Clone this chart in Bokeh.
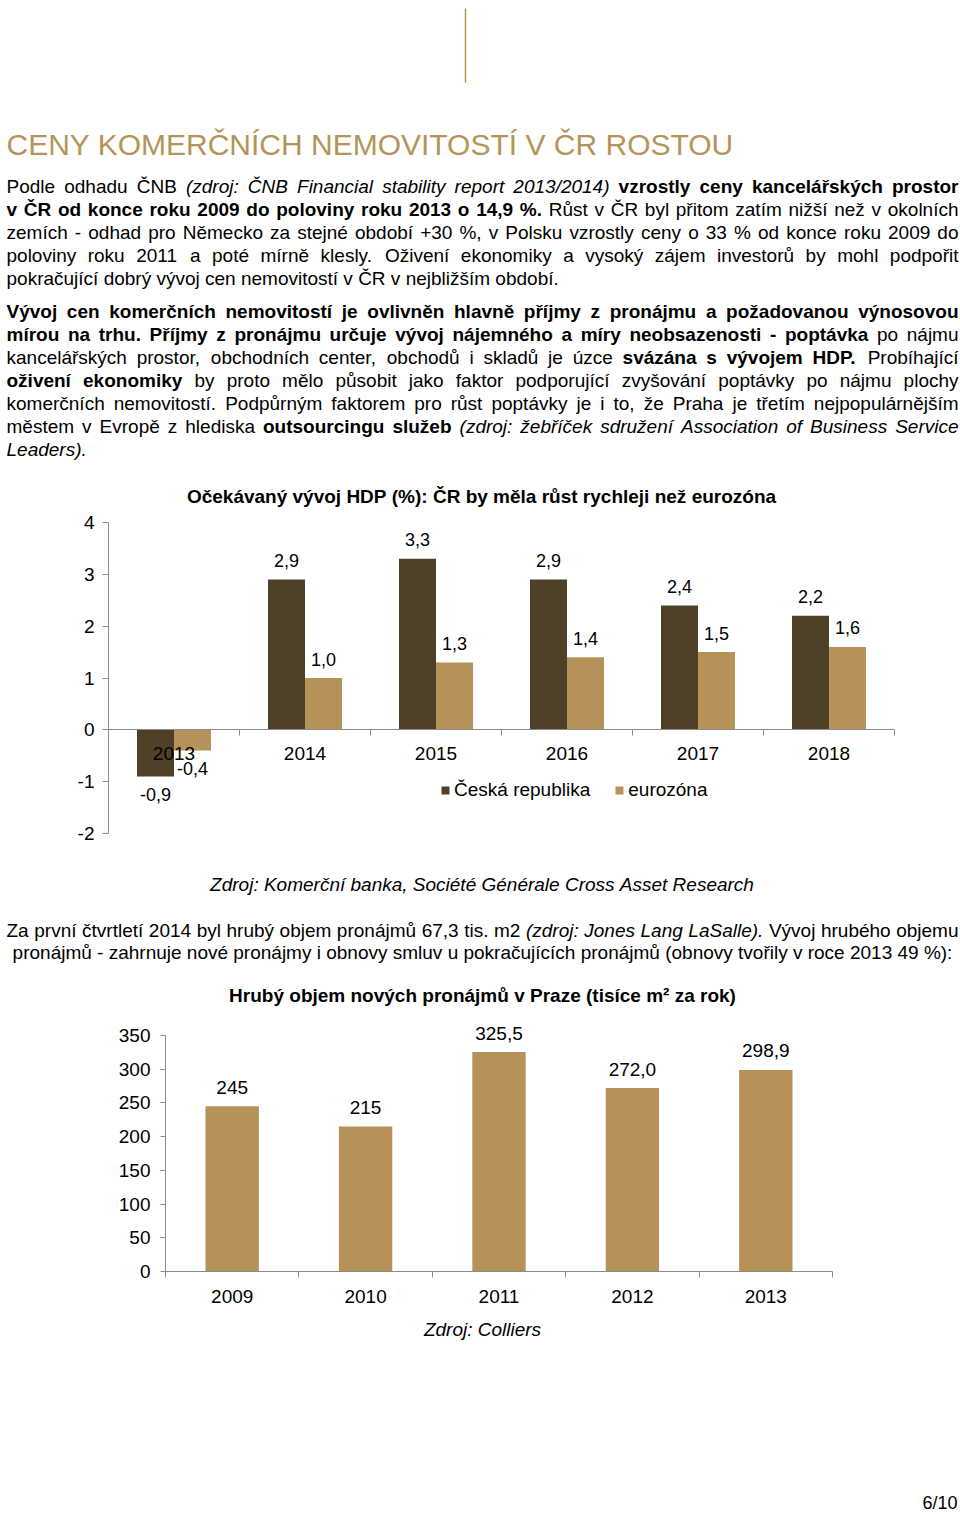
import unicodedata
from bokeh.plotting import figure
from bokeh.models import (ColumnDataSource, Range1d, LinearAxis, FixedTicker,
                          LabelSet, Legend, LegendItem)
from bokeh.layouts import column
from bokeh.transform import dodge
from bokeh.core.properties import value
from bokeh.embed import file_html
from bokeh.resources import INLINE

# ---------------- data ----------------
gdp_years = ["2013", "2014", "2015", "2016", "2017", "2018"]
gdp_cz = [-0.9, 2.9, 3.3, 2.9, 2.4, 2.2]
gdp_ez = [-0.4, 1.0, 1.3, 1.4, 1.5, 1.6]
gdp_ticks = [-2, -1, 0, 1, 2, 3, 4]

rent_years = ["2009", "2010", "2011", "2012", "2013"]
rent_vals = [245, 215, 325.5, 272.0, 298.9]
rent_labels = ["245", "215", "325,5", "272,0", "298,9"]
rent_ticks = [0, 50, 100, 150, 200, 250, 300, 350]

# ---------------- style ----------------
FONT = "Liberation Sans"
GOLD = "#b59458"
DARK = "#4f4128"
LIGHT = "#b79258"
GRAY = "#8c8c8c"
INK = "#000000"
W = 960
BODY = 19
TX0, TX1 = 6.0, 958.0


def _tbl(spec):
    d = {}
    for chars, w in spec:
        for c in chars:
            d[c] = w
    return d


REG = _tbl([("'", 191), ("ijl", 222), (" !,./:;Ift", 278), ("()-r", 333), ('"', 355),
            ("*", 389), ("Jckswvxyz", 500), ("#$0123456789?Labdeghnopqu_", 556),
            ("+<=>", 584), ("FTZ", 611), ("&ABEKPSVXY", 667), ("CDHNRUw", 722),
            ("GOQ", 778), ("Mm", 833), ("%", 889), ("W", 944), ("@", 1015), ("²", 333)])
BLD = _tbl([("'", 238), (" ,./Iijl", 278), ("!:;()-ft", 333), ("r*", 389), ('"', 474),
            ("z", 500), ("#$0123456789acekqsvxyJ", 556), ("+<=>", 584),
            ("?bdghnopquLFTZ", 611), ("EPSVXY", 667), ("&ABCDHKNRU", 722),
            ("GOQw", 778), ("M", 833), ("%m", 889), ("W", 944), ("@", 975), ("²", 333)])


def cw(ch, bold):
    t = BLD if bold else REG
    if ch in t:
        return t[ch]
    if ch == "í":
        return 278
    base = unicodedata.normalize("NFD", ch)[0]
    return t.get(base, 556)


def tw(s, bold, size):
    return sum(cw(c, bold) for c in s) * size / 1000.0


def layout_line(items, segs, y, size, mode="justify", x0=TX0, x1=TX1, center=482.0):
    words = []
    for text, st in segs:
        for w in text.split():
            words.append((w, st))
    widths = [tw(w, st == "b", size) for w, st in words]
    total = sum(widths)
    n = len(words)
    sp = 0.278 * size
    if mode == "justify" and n > 1:
        gap = (x1 - x0 - total) / (n - 1)
        x = x0
    elif mode == "center":
        gap = sp
        x = center - (total + gap * (n - 1)) / 2
    else:
        gap = sp
        x = x0
    for (w, st), wd in zip(words, widths):
        items.append(dict(x=x, y=y, t=w, style=st, size=size, color=INK, align="left"))
        x += wd + gap


STYLE = {"r": "normal", "b": "bold", "i": "italic"}


def text_fig(h, items, extra=None):
    p = figure(width=W, height=h, x_range=Range1d(0, W), y_range=Range1d(h, 0),
               output_backend="svg", toolbar_location=None, x_axis_type=None,
               y_axis_type=None, min_border=0, outline_line_color=None,
               background_fill_color="white", border_fill_color="white")
    groups = {}
    for it in items:
        key = (it["style"], it["size"], it["color"], it["align"])
        groups.setdefault(key, []).append(it)
    for (st, size, color, align), lst in groups.items():
        src = ColumnDataSource(dict(x=[i["x"] for i in lst], y=[i["y"] for i in lst],
                                    t=[i["t"] for i in lst]))
        p.text(x="x", y="y", text="t", source=src, text_font=value(FONT),
               text_font_size=value(f"{size}px"), text_font_style=STYLE[st],
               text_color=color, text_align=align, text_baseline="middle")
    if extra:
        extra(p)
    return p


# ---------------- header (page y 0..512) ----------------
hdr = []
hdr.append(dict(x=6, y=143.5, t="CENY KOMERČNÍCH NEMOVITOSTÍ V ČR ROSTOU", style="r",
                size=30, color=GOLD, align="left"))
p1 = [
    ([("Podle odhadu ČNB", "r"), ("(zdroj: ČNB Financial stability report 2013/2014)", "i"),
      ("vzrostly ceny kancelářských prostor", "b")], "justify"),
    ([("v ČR od konce roku 2009 do poloviny roku 2013 o 14,9 %.", "b"),
      ("Růst v ČR byl přitom zatím nižší než v okolních", "r")], "justify"),
    ([("zemích - odhad pro Německo za stejné období +30 %, v Polsku vzrostly ceny o 33 % od konce roku 2009 do", "r")], "justify"),
    ([("poloviny roku 2011 a poté mírně klesly. Oživení ekonomiky a vysoký zájem investorů by mohl podpořit", "r")], "justify"),
    ([("pokračující dobrý vývoj cen nemovitostí v ČR v nejbližším období.", "r")], "left"),
]
for k, (segs, mode) in enumerate(p1):
    layout_line(hdr, segs, 186 + 23 * k, BODY, mode)
p2 = [
    ([("Vývoj cen komerčních nemovitostí je ovlivněn hlavně příjmy z pronájmu a požadovanou výnosovou", "b")], "justify"),
    ([("mírou na trhu. Příjmy z pronájmu určuje vývoj nájemného a míry neobsazenosti - poptávka", "b"),
      ("po nájmu", "r")], "justify"),
    ([("kancelářských prostor, obchodních center, obchodů i skladů je úzce", "r"),
      ("svázána s vývojem HDP.", "b"), ("Probíhající", "r")], "justify"),
    ([("oživení ekonomiky", "b"),
      ("by proto mělo působit jako faktor podporující zvyšování poptávky po nájmu plochy", "r")], "justify"),
    ([("komerčních nemovitostí. Podpůrným faktorem pro růst poptávky je i to, že Praha je třetím nejpopulárnějším", "r")], "justify"),
    ([("městem v Evropě z hlediska", "r"), ("outsourcingu služeb", "b"),
      ("(zdroj: žebříček sdružení Association of Business Service", "i")], "justify"),
    ([("Leaders).", "i")], "left"),
]
for k, (segs, mode) in enumerate(p2):
    layout_line(hdr, segs, 311 + 23 * k, BODY, mode)
layout_line(hdr, [("Očekávaný vývoj HDP (%): ČR by měla růst rychleji než eurozóna", "b")],
            496, 19, "center", center=481)


def hdr_extra(p):
    p.segment(x0=[465], y0=[8], x1=[465], y1=[82], line_color=GOLD, line_width=1.5)


header = text_fig(512, hdr, hdr_extra)


def fmt(v):
    return f"{v:.1f}".replace(".", ",")


def style_axis(ax, size=19):
    ax.axis_line_color = GRAY
    ax.major_tick_line_color = GRAY
    ax.minor_tick_line_color = GRAY
    ax.major_label_text_font = FONT
    ax.major_label_text_font_size = f"{size}px"
    ax.major_label_text_color = INK


def span_range(n, px0, px1):
    # category span [0, n] drawn between page pixels px0..px1 of a full-width frame
    s = (px1 - px0) / n
    return Range1d(-px0 / s, n + (W - px1) / s)


def value_range(v_lo, v_hi, py_lo, py_hi, fig_top, fig_bottom):
    # value v_lo at page pixel py_lo, v_hi at py_hi; frame spans fig_top..fig_bottom
    s = (py_lo - py_hi) / (v_hi - v_lo)
    return Range1d(v_lo - (fig_bottom - py_lo) / s, v_hi + (py_hi - fig_top) / s)


# ---------------- chart 1 (page y 512..866) ----------------
n1 = len(gdp_years)
c1 = figure(width=W, height=354, x_range=span_range(n1, 108, 894),
            y_range=value_range(-2, 4, 833, 522, 512, 866),
            output_backend="svg", toolbar_location=None, x_axis_type=None, y_axis_type=None,
            min_border=0, outline_line_color=None, background_fill_color="white",
            border_fill_color="white")
src1 = ColumnDataSource(dict(
    xc=[i + 0.5 for i in range(n1)], cz=gdp_cz, ez=gdp_ez,
    czl=[fmt(v) for v in gdp_cz], ezl=[fmt(v) for v in gdp_ez],
    czo=[19 if v >= 0 else -18 for v in gdp_cz], ezo=[19 if v >= 0 else -18 for v in gdp_ez]))
BW = 0.2824
r_cz = c1.vbar(x=dodge("xc", -BW / 2), top="cz", bottom=0, width=BW, source=src1,
               fill_color=DARK, line_color=None)
r_ez = c1.vbar(x=dodge("xc", BW / 2), top="ez", bottom=0, width=BW, source=src1,
               fill_color=LIGHT, line_color=None)
for fx, fy, ft, fo in [(-BW / 2, "cz", "czl", "czo"), (BW / 2, "ez", "ezl", "ezo")]:
    c1.add_layout(LabelSet(x=dodge("xc", fx), y=fy, text=ft, y_offset=fo, source=src1,
                           text_align="center", text_baseline="middle",
                           text_font=value(FONT), text_font_size="18px", text_color=INK))
y1 = LinearAxis(fixed_location=0, bounds=(gdp_ticks[0], gdp_ticks[-1]),
                ticker=FixedTicker(ticks=gdp_ticks), major_tick_out=6,
                major_tick_in=0, minor_tick_out=0, minor_tick_in=0, major_label_standoff=8,
                major_label_overrides={t: str(t) for t in gdp_ticks})
style_axis(y1)
c1.add_layout(y1, "left")
x1 = LinearAxis(fixed_location=0, bounds=(0, n1),
                ticker=FixedTicker(ticks=[i + 0.5 for i in range(n1)], minor_ticks=list(range(n1 + 1))),
                major_tick_out=0, major_tick_in=0, minor_tick_out=6, minor_tick_in=0,
                major_label_standoff=11,
                major_label_overrides={i + 0.5: y for i, y in enumerate(gdp_years)})
style_axis(x1)
c1.add_layout(x1, "below")
leg = Legend(items=[LegendItem(label="Česká republika", renderers=[r_cz]),
                    LegendItem(label="eurozóna", renderers=[r_ez])],
             orientation="horizontal", location=(440, 65), glyph_width=10, glyph_height=10,
             label_standoff=4, spacing=24, padding=0, margin=0, border_line_color=None,
             background_fill_alpha=0, label_text_font=FONT, label_text_font_size="19px",
             label_text_color=INK, label_height=20)
c1.add_layout(leg)

# ---------------- text between (page y 866..1022) ----------------
mid = []
layout_line(mid, [("Zdroj: Komerční banka, Société Générale Cross Asset Research", "i")],
            18, 19, "center", center=481.5)
layout_line(mid, [("Za první čtvrtletí 2014 byl hrubý objem pronájmů 67,3 tis. m2", "r"),
                  ("(zdroj: Jones Lang LaSalle).", "i"), ("Vývoj hrubého objemu", "r")],
            64, BODY, "justify")
layout_line(mid, [("pronájmů - zahrnuje nové pronájmy i obnovy smluv u pokračujících pronájmů (obnovy tvořily v roce 2013 49 %):", "r")],
            86, BODY, "center", center=482)
layout_line(mid, [("Hrubý objem nových pronájmů v Praze (tisíce m² za rok)", "b")],
            129, 19, "center", center=482)
middle = text_fig(156, mid)

# ---------------- chart 2 (page y 1022..1310) ----------------
n2 = len(rent_years)
c2 = figure(width=W, height=288, x_range=span_range(n2, 165, 832),
            y_range=value_range(rent_ticks[0], rent_ticks[-1], 1271, 1035, 1022, 1310),
            output_backend="svg", toolbar_location=None, x_axis_type=None, y_axis_type=None,
            min_border=0, outline_line_color=None, background_fill_color="white",
            border_fill_color="white")
src2 = ColumnDataSource(dict(xc=[i + 0.5 for i in range(n2)], v=rent_vals, lab=rent_labels))
c2.vbar(x="xc", top="v", bottom=0, width=0.4, source=src2, fill_color=LIGHT, line_color=None)
c2.add_layout(LabelSet(x="xc", y="v", text="lab", y_offset=19, source=src2,
                       text_align="center", text_baseline="middle",
                       text_font=value(FONT), text_font_size="19px", text_color=INK))
y2 = LinearAxis(fixed_location=0, bounds=(rent_ticks[0], rent_ticks[-1]),
                ticker=FixedTicker(ticks=rent_ticks), major_tick_out=5,
                major_tick_in=0, minor_tick_out=0, minor_tick_in=0, major_label_standoff=10)
style_axis(y2)
c2.add_layout(y2, "left")
x2 = LinearAxis(fixed_location=0, bounds=(0, n2),
                ticker=FixedTicker(ticks=[i + 0.5 for i in range(n2)], minor_ticks=list(range(n2 + 1))),
                major_tick_out=0, major_tick_in=0, minor_tick_out=6, minor_tick_in=0,
                major_label_standoff=12,
                major_label_overrides={i + 0.5: y for i, y in enumerate(rent_years)})
style_axis(x2)
c2.add_layout(x2, "below")

# ---------------- footer (page y 1310..1512) ----------------
foot = []
layout_line(foot, [("Zdroj: Colliers", "i")], 19, 19, "center", center=482)
foot.append(dict(x=957, y=192, t="6/10", style="r", size=18, color=INK, align="right"))
footer = text_fig(202, foot)

page = column(header, c1, middle, c2, footer, spacing=0)
open("out.html", "w").write(file_html(page, INLINE))
